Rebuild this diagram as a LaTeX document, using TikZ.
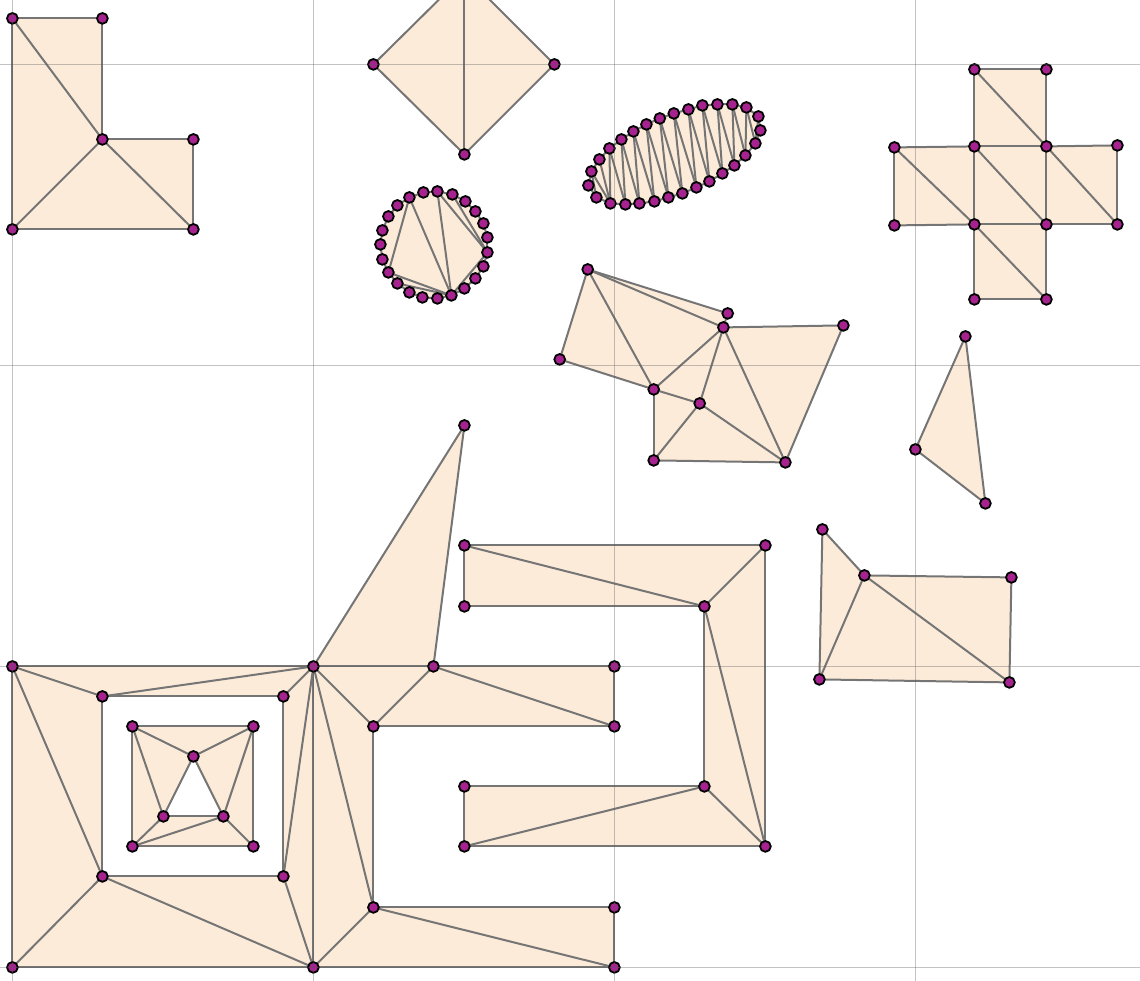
\documentclass[tikz,border=0pt]{standalone}
\pgfdeclarelayer{bg}\pgfdeclarelayer{fg}\pgfdeclarelayer{top}
\pgfsetlayers{bg,main,fg,top}
\definecolor{areafill}{HTML}{FCEBD9}
\definecolor{edgegray}{HTML}{757575}
\definecolor{gridgray}{HTML}{5A5A5A}
\definecolor{ptpurple}{HTML}{A6228F}
\tikzset{
  vtx/.style={circle,draw=black,fill=ptpurple,line width=1.8pt,minimum size=10.8pt,inner sep=0pt,outer sep=0pt},
  edgeline/.style={draw=edgegray,line width=2pt},
  gridline/.style={draw=gridgray,draw opacity=0.36,line width=1pt},
  region/.style={fill=areafill,even odd rule}
}
\newcommand{\verts}[1]{\foreach \n/\px/\py in {#1}{\node[vtx] (\n) at (\px,\py) {};}}
\newcommand{\links}[1]{\foreach \pa/\pb in {#1}{\draw[edgeline] (\pa) -- (\pb);}}
\begin{document}
\begin{tikzpicture}[x=1pt,y=-1pt]
\useasboundingbox (-0.4,-0.4) rectangle (1139.6,979.6);
\clip (-0.4,-0.4) rectangle (1139.6,979.6);
\begin{pgfonlayer}{fg}
% L shape
\verts{L1/12/18,L2/102/18,L3/102/139,L4/193/139,L5/193/229,L6/12/229}
% diamond
\verts{D1/464/-26,D2/554/64,D3/464/154,D4/373/64}
% cross
\verts{X1/974/69,X2/1046/69,X3/974/146,X4/1046/146,X5/894/147,X6/1117/145,X7/894/225,X8/974/224,X9/1046/224,X10/1117/224,X11/974/299,X12/1046/299}
% middle polygon
\verts{M1/587.3/269,M2/727.3/313,M3/723/327,M4/843/325,M5/785/462,M6/653.3/460,M7/699.3/403,M8/653.3/389,M9/559.3/359}
% triangle
\verts{T1/965/336,T2/915/449,T3/985/503}
% quad
\verts{Q1/822/529,Q2/864/575,Q3/1011/577,Q4/1009/682,Q5/819/679}
% big shape
\verts{B1/12/666,B2/313/666,B3/433/666,B4/614/666,B5/614/726,B6/373/726,B7/373/907,B8/614/907,B9/614/967,B10/313/967,B11/12/967,B12/464/425}
\verts{H1/102/696,H2/283/696,H3/283/876,H4/102/876}
\verts{I1/132/726,I2/253/726,I3/253/846,I4/132/846,I5/193/756,I6/163/816,I7/223/816}
% C shape
\verts{C1/464/545,C2/765/545,C3/765/846,C4/464/846,C5/464/786,C6/704/786,C7/704/606,C8/464/606}
% circle
\verts{R1/409/197,R2/423/192,R3/437/191,R4/452/194,R5/465/201,R6/475/211,R7/483/223,R8/487/237,R9/487/252,R10/483/266,R11/475/278,R12/464/288,R13/451/295,R14/437/298,R15/422/297,R16/409/292,R17/397/283,R18/388/272,R19/382/259,R20/380/244,R21/382/230,R22/388/216,R23/397/205}
% ellipse
\verts{E1/588/185,E2/591/171,E3/599/159,E4/609/148,E5/621/139,E6/633/131,E7/646/124,E8/659.4/118,E9/673.4/113,E10/688/109,E11/702/105,E12/717/104,E13/732/104,E14/746/107,E15/758/116,E16/760/130,E17/755/143,E18/745/155,E19/734/165,E20/722/173,E21/709/181,E22/696/187,E23/682/193,E24/668/197,E25/654/201,E26/639/203,E27/625/204,E28/610/203,E29/596/197}
\end{pgfonlayer}
\begin{pgfonlayer}{top}
\foreach \gx in {12,313,614,915}{\coordinate (gt\gx) at (\gx,-1);\coordinate (gb\gx) at (\gx,981);\draw[gridline] (gt\gx) -- (gb\gx);}
\foreach \gy in {64,365,666,967}{\coordinate (gl\gy) at (-1,\gy);\coordinate (gr\gy) at (1141,\gy);\draw[gridline] (gl\gy) -- (gr\gy);}
\end{pgfonlayer}
\begin{pgfonlayer}{bg}
\fill[region] (L1.center)--(L2.center)--(L3.center)--(L4.center)--(L5.center)--(L6.center)--cycle;
\fill[region] (D1.center)--(D2.center)--(D3.center)--(D4.center)--cycle;
\fill[region] (X1.center)--(X2.center)--(X4.center)--(X6.center)--(X10.center)--(X9.center)--(X12.center)--(X11.center)--(X8.center)--(X7.center)--(X5.center)--(X3.center)--cycle;
\fill[region] (M1.center)--(M2.center)--(M3.center)--(M4.center)--(M5.center)--(M6.center)--(M8.center)--(M9.center)--cycle;
\fill[region] (T1.center)--(T2.center)--(T3.center)--cycle;
\fill[region] (Q1.center)--(Q2.center)--(Q3.center)--(Q4.center)--(Q5.center)--cycle;
\fill[region] (B1.center)--(B2.center)--(B12.center)--(B3.center)--(B4.center)--(B5.center)--(B6.center)--(B7.center)--(B8.center)--(B9.center)--(B10.center)--(B11.center)--cycle
 (H1.center)--(H2.center)--(H3.center)--(H4.center)--cycle
 (I1.center)--(I2.center)--(I3.center)--(I4.center)--cycle
 (I5.center)--(I6.center)--(I7.center)--cycle;
\fill[region] (C1.center)--(C2.center)--(C3.center)--(C4.center)--(C5.center)--(C6.center)--(C7.center)--(C8.center)--cycle;
\fill[region] (R1.center)--(R2.center)--(R3.center)--(R4.center)--(R5.center)--(R6.center)--(R7.center)--(R8.center)--(R9.center)--(R10.center)--(R11.center)--(R12.center)--(R13.center)--(R14.center)--(R15.center)--(R16.center)--(R17.center)--(R18.center)--(R19.center)--(R20.center)--(R21.center)--(R22.center)--(R23.center)--cycle;
\fill[region] (E1.center)--(E2.center)--(E3.center)--(E4.center)--(E5.center)--(E6.center)--(E7.center)--(E8.center)--(E9.center)--(E10.center)--(E11.center)--(E12.center)--(E13.center)--(E14.center)--(E15.center)--(E16.center)--(E17.center)--(E18.center)--(E19.center)--(E20.center)--(E21.center)--(E22.center)--(E23.center)--(E24.center)--(E25.center)--(E26.center)--(E27.center)--(E28.center)--(E29.center)--cycle;
\end{pgfonlayer}
% L
\links{L1/L2,L2/L3,L3/L4,L4/L5,L5/L6,L6/L1,L1/L3,L3/L6,L3/L5}
% diamond
\links{D1/D2,D2/D3,D3/D4,D4/D1,D1/D3}
% cross
\links{X1/X2,X2/X4,X1/X3,X3/X4,X4/X6,X6/X10,X10/X9,X9/X4,X3/X5,X5/X7,X7/X8,X8/X3,X8/X9,X8/X11,X9/X12,X11/X12,X1/X4,X5/X8,X3/X9,X4/X10,X8/X12}
% middle
\links{M1/M2,M1/M3,M2/M3,M3/M4,M4/M5,M5/M6,M6/M8,M6/M7,M7/M8,M7/M5,M7/M3,M8/M3,M8/M1,M8/M9,M9/M1,M3/M5}
% triangle
\links{T1/T2,T2/T3,T3/T1}
% quad
\links{Q1/Q2,Q2/Q3,Q3/Q4,Q4/Q5,Q5/Q1,Q2/Q5,Q2/Q4}
% big
\links{B1/B2,B2/B3,B3/B4,B4/B5,B5/B6,B6/B7,B7/B8,B8/B9,B9/B10,B10/B11,B11/B1,B2/B12,B12/B3,B1/H1,H1/B2,H2/B2,H3/B2,B1/H4,H4/B11,H4/B10,H3/B10,B2/B10,B2/B6,B2/B7,B6/B3,B3/B5,B7/B10,B7/B9}
\links{H1/H2,H2/H3,H3/H4,H4/H1}
\links{I1/I2,I2/I3,I3/I4,I4/I1,I1/I5,I2/I5,I1/I6,I2/I7,I5/I6,I5/I7,I6/I7,I4/I6,I4/I7,I3/I7}
% C
\links{C1/C2,C2/C3,C3/C4,C4/C5,C5/C6,C6/C7,C7/C8,C8/C1,C1/C7,C2/C7,C7/C3,C6/C3,C6/C4}
% circle
\links{R1/R2,R2/R3,R3/R4,R4/R5,R5/R6,R6/R7,R7/R8,R8/R9,R9/R10,R10/R11,R11/R12,R12/R13,R13/R14,R14/R15,R15/R16,R16/R17,R17/R18,R18/R19,R19/R20,R20/R21,R21/R22,R22/R23,R23/R1}
\links{R1/R18,R1/R13,R3/R13,R3/R9,R4/R9,R18/R13,R17/R13,R9/R13}
% ellipse
\links{E1/E2,E2/E3,E3/E4,E4/E5,E5/E6,E6/E7,E7/E8,E8/E9,E9/E10,E10/E11,E11/E12,E12/E13,E13/E14,E14/E15,E15/E16,E16/E17,E17/E18,E18/E19,E19/E20,E20/E21,E21/E22,E22/E23,E23/E24,E24/E25,E25/E26,E26/E27,E27/E28,E28/E29,E29/E1}
\links{E2/E29,E2/E28,E3/E28,E4/E28,E4/E27,E5/E27,E5/E26,E6/E26,E6/E25,E7/E25,E7/E24,E8/E24,E8/E23,E9/E23,E9/E22,E10/E22,E10/E21,E11/E21,E11/E20,E12/E20,E12/E19,E13/E19,E13/E18,E14/E18,E14/E17,E15/E17}
\end{tikzpicture}
\end{document}
